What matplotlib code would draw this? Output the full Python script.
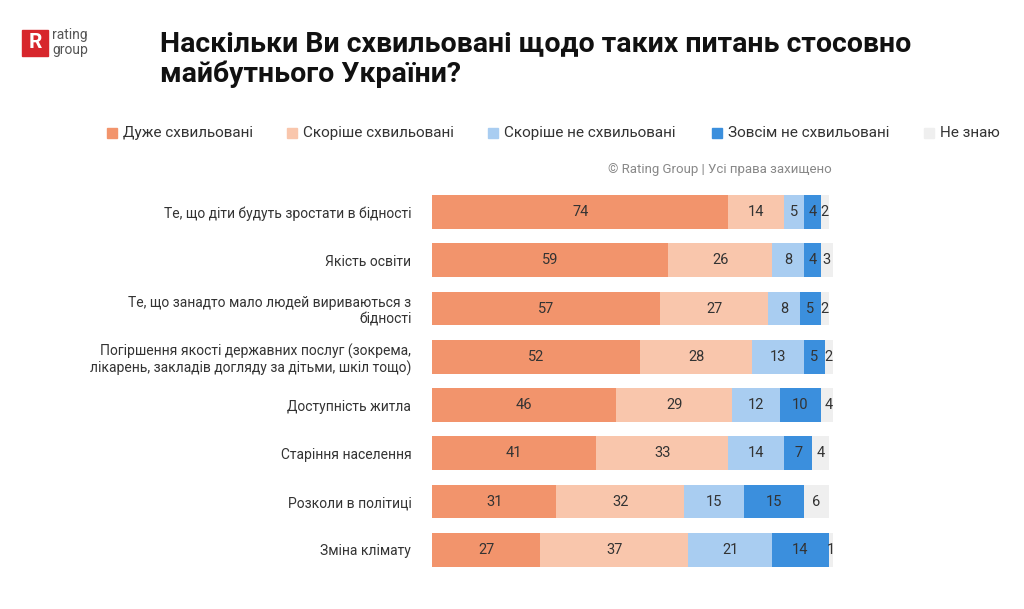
import numpy as np
import matplotlib.pyplot as plt
from matplotlib.patches import Rectangle

categories = [
    "Те, що діти будуть зростати в бідності",
    "Якість освіти",
    "Те, що занадто мало людей вириваються з\nбідності",
    "Погіршення якості державних послуг (зокрема,\nлікарень, закладів догляду за дітьми, шкіл тощо)",
    "Доступність житла",
    "Старіння населення",
    "Розколи в політиці",
    "Зміна клімату",
]
series_names = ["Дуже схвильовані", "Скоріше схвильовані", "Скоріше не схвильовані",
                "Зовсім не схвильовані", "Не знаю"]
very = [74, 59, 57, 52, 46, 41, 31, 27]
rather = [14, 26, 27, 28, 29, 33, 32, 37]
rather_not = [5, 8, 8, 13, 12, 14, 15, 21]
not_at_all = [4, 4, 5, 5, 10, 7, 15, 14]
dont_know = [2, 3, 2, 2, 4, 4, 6, 1]
colors = ["#F2946C", "#F9C6AC", "#A9CDF1", "#3B8FDD", "#EFEFEF"]

plt.rcParams['font.family'] = ['Roboto', 'DejaVu Sans']
fig = plt.figure(figsize=(10.24, 6.09), dpi=100)
ax = fig.add_axes([0.422, 0.0575, 0.391, 0.634])

data = np.array([very, rather, rather_not, not_at_all, dont_know])
y = np.arange(len(categories))
left = np.zeros(len(categories))
for vals, c in zip(data, colors):
    ax.barh(y, vals, left=left, color=c, height=0.7)
    for yi, (l, v) in enumerate(zip(left, vals)):
        ax.text(l + v / 2, yi, str(v), ha='center', va='center', fontsize=10.5, color='#333333')
    left += vals

ax.set_xlim(0, 100)
ax.set_ylim(len(categories) - 0.5, -0.5)
ax.set_yticks(y)
ax.set_yticklabels(categories, fontsize=10, color='#333333')
ax.tick_params(axis='y', length=0, pad=15)
ax.set_xticks([])
for s in ax.spines.values():
    s.set_visible(False)

# title
fig.text(160 / 1024, 1 - 44 / 609, "Наскільки Ви схвильовані щодо таких питань стосовно",
         fontsize=20.5, fontweight='bold', va='center', color='#111111')
fig.text(160 / 1024, 1 - 74 / 609, "майбутнього України?",
         fontsize=20.5, fontweight='bold', va='center', color='#111111')

# logo
fig.patches.append(Rectangle((22 / 1024, 1 - 56 / 609), 26 / 1024, 26 / 609,
                             transform=fig.transFigure, color='#D7262C'))
fig.text(35 / 1024, 1 - 43 / 609, "R", color='white', fontsize=15, fontweight='bold',
         ha='center', va='center')
fig.text(52 / 1024, 1 - 35 / 609, "rating", fontsize=10, color='#555555', va='center')
fig.text(52 / 1024, 1 - 50 / 609, "group", fontsize=10, color='#555555', va='center')

# legend
leg_x = [107, 287, 488, 712, 924]
for x, name, c in zip(leg_x, series_names, colors):
    fig.patches.append(Rectangle((x / 1024, 1 - 138 / 609), 10 / 1024, 10 / 609,
                                 transform=fig.transFigure, color=c))
    fig.text((x + 16) / 1024, 1 - 133 / 609, name, fontsize=11, va='center', color='#333333')

fig.text(832 / 1024, 1 - 169 / 609, "© Rating Group | Усі права захищено",
         fontsize=9.5, ha='right', va='center', color='#888888')

fig.savefig("out.png", dpi=100)
